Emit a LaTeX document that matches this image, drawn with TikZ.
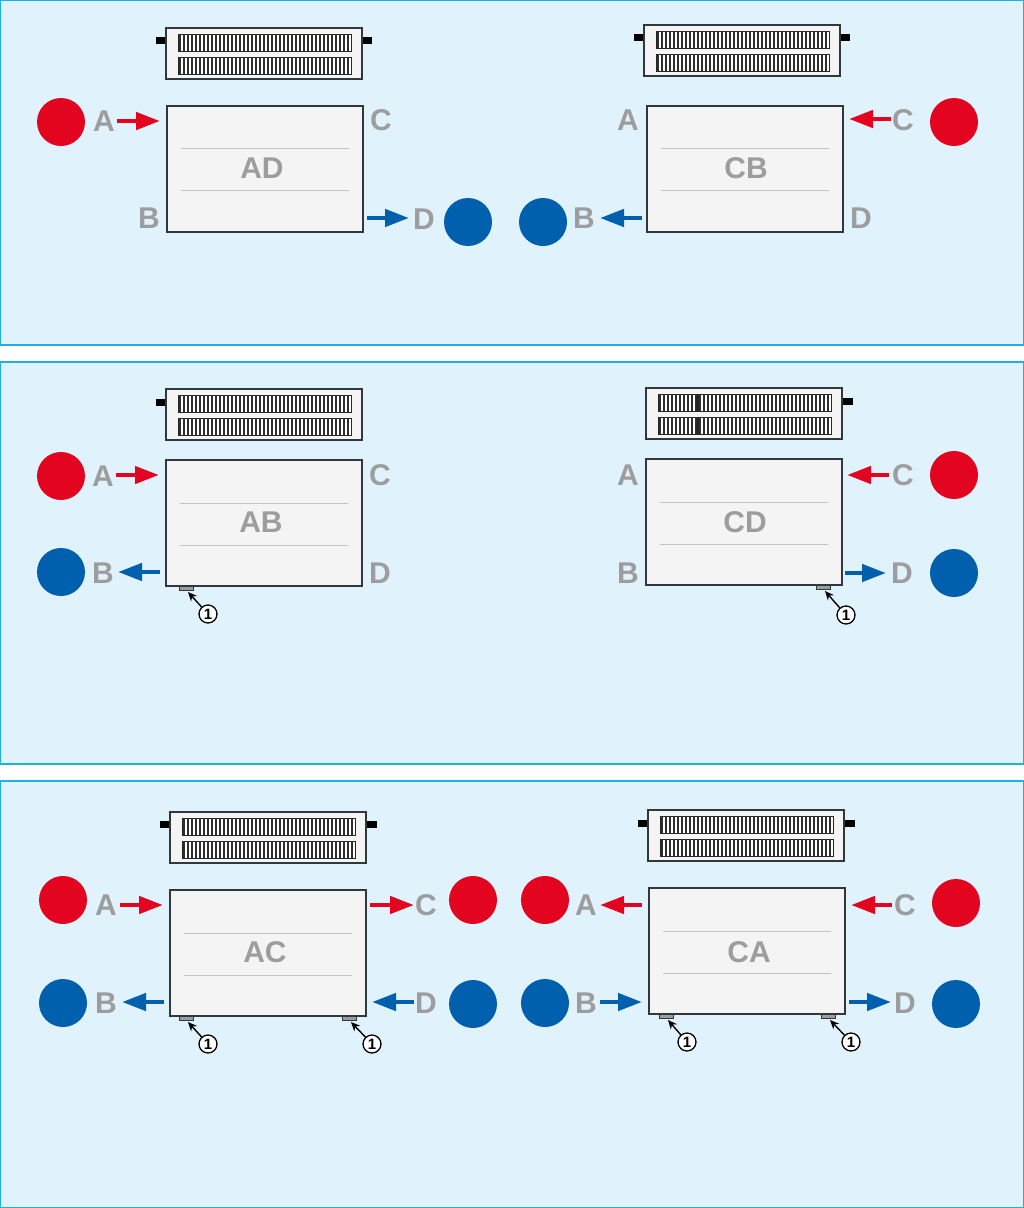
\documentclass[tikz,border=0pt]{standalone}
\usepackage{fontspec}
\setmainfont{Liberation Sans}
\usetikzlibrary{arrows.meta}

\definecolor{panelblue}{HTML}{E0F3FD}
\definecolor{panelline}{HTML}{1FB0E2}
\definecolor{hotred}{HTML}{E30520}
\definecolor{coldblue}{HTML}{0060AE}
\definecolor{lettergray}{HTML}{9D9D9E}
\definecolor{bodyfill}{HTML}{F4F4F4}
\definecolor{bodyline}{HTML}{30383C}

\tikzset{
    panel/.style={fill=panelblue, draw=panelline, line width=1.2pt},
    letter/.style={text=lettergray, font=\fontsize{30}{30}\selectfont\bfseries, inner sep=0pt},
    hotdot/.style={circle, fill=hotred, minimum size=48pt, inner sep=0pt},
    colddot/.style={circle, fill=coldblue, minimum size=48pt, inner sep=0pt},
    hotflow/.style={draw=hotred, line width=4.5pt, -{Triangle[length=24pt,width=17pt]}},
    coldflow/.style={draw=coldblue, line width=4.5pt, -{Triangle[length=24pt,width=17pt]}},
    casing/.style={fill=bodyfill, draw=bodyline, line width=1.1pt},
    rib/.style={draw=lettergray!60, line width=0.7pt},
    callout/.style={circle, draw=black, fill=white, line width=1.3pt, minimum size=18pt, inner sep=0pt, font=\fontsize{15}{15}\selectfont\bfseries},
    pointer/.style={draw=black, line width=1.4pt, -{Stealth[length=9pt,width=8pt]}}
}

% flow arrow: name, style, x from, x to, y
\newcommand{\flow}[5]{
    \coordinate (#1s) at (#3, #5);
    \coordinate (#1e) at (#4, #5);
    \draw[#2] (#1s) -- (#1e);
}
% front view: x, y, rib y (relative)
\newcommand{\radfront}[3]{
    \begin{scope}[shift={(#1, #2)}]
        \draw[casing] (0, 0) rectangle (196, 126);
        \draw[rib] (14, #3) -- (182, #3);
        \draw[rib] (14, #3+42) -- (182, #3+42);
    \end{scope}
}
% top view: x, y
\newcommand{\radtop}[2]{
    \begin{scope}[shift={(#1, #2)}]
        \draw[casing] (0, 0) rectangle (196, 51);
        \foreach \row in {6, 29} {
            \draw[fill=white, draw=black!85, line width=0.9pt] (12, \row) rectangle (185, \row+17);
            \foreach \i in {0,...,42} {
                \fill[black!82] (13+4*\i, \row) rectangle (15.2+4*\i, \row+17);
            }
        }
    \end{scope}
}
% foot and callout: name, foot x, foot y, circle x, circle y
\newcommand{\footmark}[5]{
    \draw[fill=lettergray, draw=bodyline, line width=0.7pt] (#2, #3) rectangle (#2+14, #3+4);
    \coordinate (#1t) at (#2+9, #3+6);
    \node[callout] (#1) at (#4, #5) {1};
    \draw[pointer] (#1) -- (#1t);
}

\begin{document}
\begin{tikzpicture}[x=1pt, y=-1pt]
    \useasboundingbox (0, 0) rectangle (1024, 1208);

    \draw[panel] (0, 0.6) rectangle (1023.4, 345);
    \draw[panel] (0, 362) rectangle (1023.4, 764);
    \draw[panel] (0, 781) rectangle (1023.4, 1207.4);

    % first panel
    \fill[black] (156, 37) rectangle (166, 44);
    \fill[black] (362, 37) rectangle (372, 44);
    \radtop{166}{28}
    \radfront{167}{106}{42}
    \node[letter] (ad) at (262, 168) {AD};
    \fill[black] (634, 34) rectangle (644, 41);
    \fill[black] (840, 34) rectangle (850, 41);
    \radtop{644}{25}
    \radfront{647}{106}{42}
    \node[letter] (cb) at (746, 168) {CB};

    \node[hotdot] (h1) at (61, 122) {};
    \node[letter] (a1) at (104, 121) {A};
    \node[letter] (c1) at (381, 120) {C};
    \node[letter] (b1) at (149, 218) {B};
    \node[letter] (d1) at (424, 219) {D};
    \node[colddot] (k1) at (468, 222) {};
    \flow{f1}{hotflow}{117}{160}{121}
    \flow{f2}{coldflow}{367}{409}{218}

    \node[colddot] (k2) at (543, 222) {};
    \node[letter] (b2) at (584, 218) {B};
    \node[letter] (a2) at (628, 120) {A};
    \node[letter] (d2) at (861, 218) {D};
    \node[letter] (c2) at (903, 120) {C};
    \node[hotdot] (h2) at (954, 122) {};
    \flow{f3}{coldflow}{642}{600}{218}
    \flow{f4}{hotflow}{891}{849}{119}

    % second panel
    \fill[black] (156, 399) rectangle (166, 406);
    \radtop{166}{389}
    \radfront{166}{460}{43}
    \node[letter] (ab) at (261, 522) {AB};
    \fill[black] (843, 398) rectangle (853, 405);
    \radtop{646}{388}
    \fill[black!85] (695.5, 394) rectangle (698.5, 411);
    \fill[black!85] (695.5, 417) rectangle (698.5, 434);
    \radfront{646}{459}{43}
    \node[letter] (cd) at (745, 522) {CD};
    \footmark{n1}{179}{586}{208}{614}
    \footmark{n2}{816}{585}{846}{615}

    \node[hotdot] (h3) at (61, 476) {};
    \node[colddot] (k3) at (61, 572) {};
    \node[letter] (a3) at (103, 476) {A};
    \node[letter] (b3) at (103, 573) {B};
    \node[letter] (c3) at (380, 475) {C};
    \node[letter] (d3) at (380, 573) {D};
    \flow{f5}{hotflow}{116}{159}{475}
    \flow{f6}{coldflow}{160}{118}{572}

    \node[letter] (a4) at (628, 475) {A};
    \node[letter] (b4) at (628, 573) {B};
    \node[letter] (c4) at (903, 475) {C};
    \node[letter] (d4) at (902, 573) {D};
    \node[hotdot] (h4) at (954, 475) {};
    \node[colddot] (k4) at (954, 573) {};
    \flow{f7}{hotflow}{889}{847}{475}
    \flow{f8}{coldflow}{845}{886}{573}

    % third panel
    \fill[black] (160, 821) rectangle (170, 828);
    \fill[black] (366, 821) rectangle (377, 828);
    \radtop{170}{812}
    \radfront{170}{890}{43}
    \node[letter] (ac) at (265, 952) {AC};
    \fill[black] (638, 820) rectangle (648, 827);
    \fill[black] (845, 820) rectangle (855, 827);
    \radtop{648}{810}
    \radfront{649}{888}{43}
    \node[letter] (ca) at (749, 952) {CA};
    \footmark{n3}{179}{1016}{208}{1044}
    \footmark{n4}{342}{1016}{372}{1044}
    \footmark{n5}{659}{1014}{687}{1042}
    \footmark{n6}{821}{1014}{851}{1042}

    \node[hotdot] (h5) at (63, 900) {};
    \node[colddot] (k5) at (63, 1003) {};
    \node[letter] (a5) at (106, 905) {A};
    \node[letter] (b5) at (106, 1003) {B};
    \node[letter] (c5) at (426, 905) {C};
    \node[letter] (d5) at (426, 1003) {D};
    \node[hotdot] (h6) at (473, 900) {};
    \node[colddot] (k6) at (473, 1004) {};
    \flow{f9}{hotflow}{120}{163}{905}
    \flow{f10}{coldflow}{164}{122}{1002}
    \flow{f11}{hotflow}{370}{414}{905}
    \flow{f12}{coldflow}{414}{372}{1002}

    \node[hotdot] (h7) at (545, 900) {};
    \node[colddot] (k7) at (545, 1003) {};
    \node[letter] (a6) at (586, 905) {A};
    \node[letter] (b6) at (586, 1003) {B};
    \node[letter] (c6) at (905, 905) {C};
    \node[letter] (d6) at (905, 1003) {D};
    \node[hotdot] (h8) at (956, 903) {};
    \node[colddot] (k8) at (956, 1004) {};
    \flow{f13}{hotflow}{642}{600}{905}
    \flow{f14}{coldflow}{600}{642}{1002}
    \flow{f15}{hotflow}{892}{851}{905}
    \flow{f16}{coldflow}{849}{891}{1002}
\end{tikzpicture}
\end{document}
